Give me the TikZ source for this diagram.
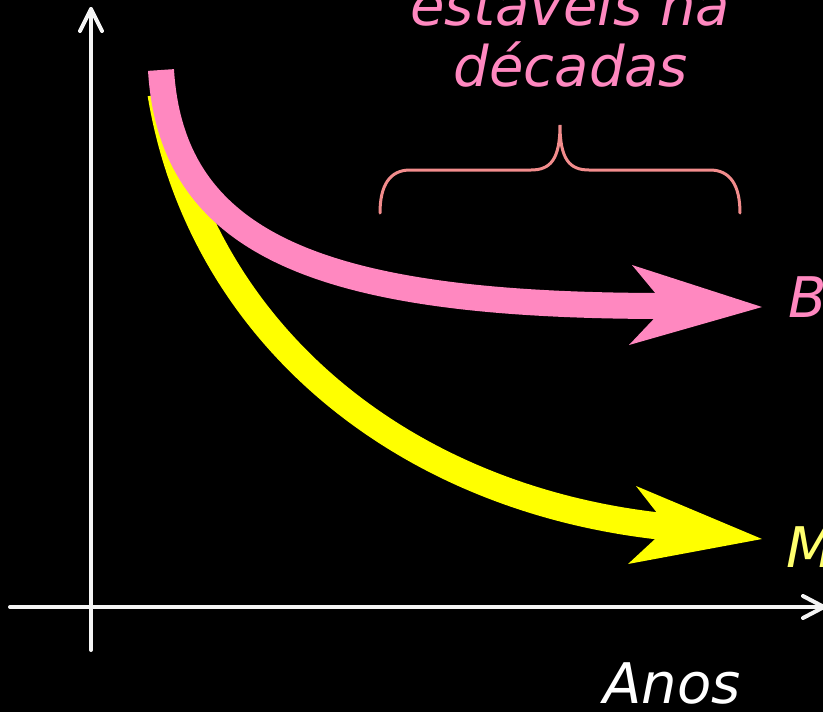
\documentclass[tikz,border=0pt]{standalone}
\usepackage{fontspec}
\setmainfont{DejaVu Sans}
\definecolor{pinkc}{RGB}{255,136,192}
\definecolor{yel}{RGB}{255,255,0}
\definecolor{yeltext}{RGB}{255,255,110}
\definecolor{bracec}{RGB}{242,140,140}
\tikzset{
  axisline/.style={draw=white!96!black, line width=4pt, line cap=round, line join=round},
  band/.style={line width=#1, line cap=butt},
  lbl/.style={anchor=base, inner sep=0pt, font=\fontsize{56}{60}\selectfont\itshape},
}
\begin{document}
\begin{tikzpicture}[x=1pt,y=-1pt]
\fill[black] (0,0) rectangle (823,712);
\useasboundingbox (0,0) rectangle (823,712);
\clip (0,0) rectangle (823,712);
% axes
\coordinate (yb) at (91,650);
\coordinate (yt) at (91,9);
\coordinate (xl) at (10,607);
\coordinate (xr) at (824,607);
\draw[axisline] (yb) -- (yt);
\draw[axisline] (80,31) -- (yt) -- (102,31);
\draw[axisline] (xl) -- (xr);
\draw[axisline] (803,596) -- (xr) -- (803,618);
% yellow curve
\coordinate (ys) at (161,94);
\coordinate (ye) at (668,527);
\coordinate (ytip) at (762,539);
\draw[yel, band=27pt] (ys) .. controls (200,330) and (400,500) .. (ye);
\fill[yel] (ytip) -- (636,486) -- (ye) -- (628,564) -- cycle;
% pink curve
\coordinate (ps) at (161,70);
\coordinate (pe) at (666,306);
\coordinate (ptip) at (762,307);
\draw[pinkc, band=26pt] (ps) .. controls (172,250) and (330,306) .. (pe);
\fill[pinkc] (ptip) -- (632,265) -- (pe) -- (629,345) -- cycle;
% brace
\coordinate (bl) at (380,213);
\coordinate (bm) at (560,125);
\coordinate (br) at (740,213);
\draw[bracec, line width=3pt, line cap=round]
  (bl) .. controls (380,185) and (390,170) .. (410,170) -- (531,170)
  .. controls (550,170) and (560,160) .. (bm)
  .. controls (560,160) and (570,170) .. (589,170) -- (710,170)
  .. controls (730,170) and (740,185) .. (br);
% labels
\node[lbl, text=pinkc] (t1) at (570,25) {estáveis na};
\node[lbl, text=pinkc] (t2) at (571,86) {décadas};
\node[lbl, text=pinkc, anchor=base west] (lb) at (788,317) {B};
\node[lbl, text=yeltext, anchor=base west] (lm) at (786,567) {M};
\node[lbl, text=white] (la) at (672,703) {Anos};
\end{tikzpicture}
\end{document}
